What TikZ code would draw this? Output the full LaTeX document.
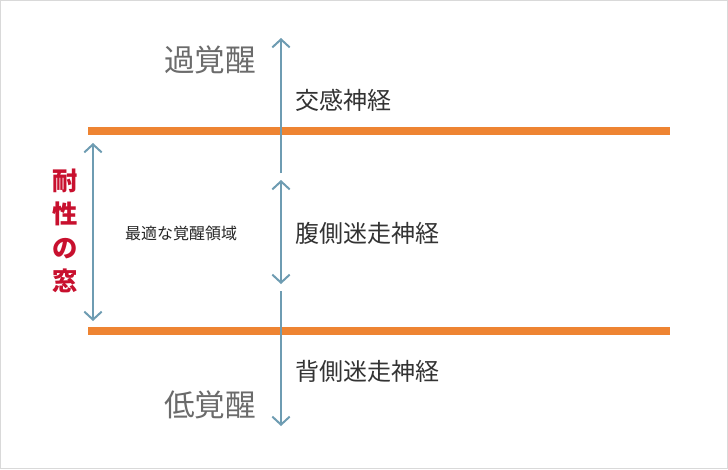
\documentclass[tikz,border=0pt]{standalone}
\usepackage{fontspec}
\setmainfont{Noto Sans CJK JP}
\usetikzlibrary{arrows.meta}
\definecolor{band}{HTML}{EE8432}
\definecolor{arr}{HTML}{6E9CB2}
\definecolor{lbl}{HTML}{6B6B6B}
\definecolor{win}{HTML}{C8102E}
\begin{document}
\begin{tikzpicture}[x=0.75pt, y=-0.75pt,
  level/.style = {text=lbl, font=\fontsize{23}{25}\selectfont},
  nerve/.style = {text=black!80, font=\fontsize{18}{20}\selectfont, anchor=west},
  tip/.style = {Straight Barb[length=6pt,width=13pt]},
  arrow/.style = {draw=arr, line width=1.5pt},
  edge/.style = {draw=band, line width=6pt}]
\draw[black!15, fill=white] (0.5,0.5) rectangle (727.5,468.5);
\useasboundingbox (0,0) rectangle (728,469);
% bands
\coordinate (hiL) at (88,131);
\coordinate (hiR) at (670,131);
\coordinate (loL) at (88,331);
\coordinate (loR) at (670,331);
\draw[edge] (hiL) -- (hiR);
\draw[edge] (loL) -- (loR);
% arrows
\coordinate (t1) at (281,38);
\coordinate (t2) at (281,173);
\coordinate (m1) at (281,180);
\coordinate (m2) at (281,284);
\coordinate (b1) at (281,291);
\coordinate (b2) at (281,426);
\coordinate (w1) at (93,143);
\coordinate (w2) at (93,321);
\draw[arrow, -{Straight Barb[length=6pt,width=13pt]}] (t2) -- (t1);
\draw[arrow, {Straight Barb[length=6pt,width=13pt]}-{Straight Barb[length=6pt,width=13pt]}] (m1) -- (m2);
\draw[arrow, -{Straight Barb[length=6pt,width=13pt]}] (b1) -- (b2);
\draw[arrow, {Straight Barb[length=6pt,width=13pt]}-{Straight Barb[length=6pt,width=13pt]}] (w1) -- (w2);
% labels
\node[level] (hyper) at (210,60) {過覚醒};
\node[level] (hypo) at (210,405) {低覚醒};
\node[nerve] (symp) at (291,100) {交感神経};
\node[nerve] (ventral) at (291,233) {腹側迷走神経};
\node[nerve] (dorsal) at (291,371) {背側迷走神経};
\node[text=black!85, font=\fontsize{12}{14}\selectfont] (zone) at (181,233) {最適な覚醒領域};
\node[text=win, font=\fontsize{19}{25}\selectfont\bfseries, align=center] (window) at (65,231) {耐\\性\\の\\窓};
\end{tikzpicture}
\end{document}
